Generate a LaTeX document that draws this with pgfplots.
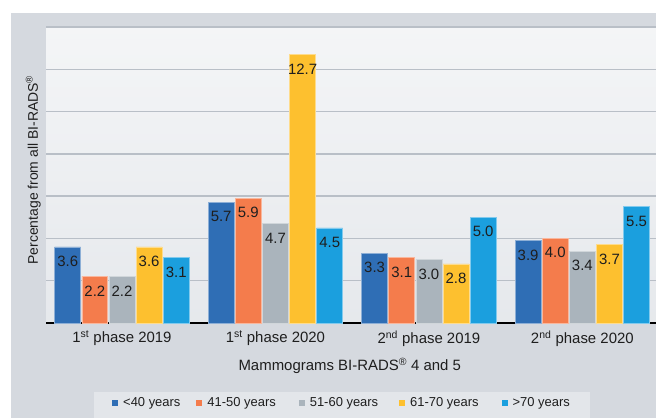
\documentclass[border=0pt]{standalone}
\usepackage{pgfplots}
\pgfplotsset{compat=1.18}
\usepackage{fontspec}
\setmainfont{Liberation Sans}
\definecolor{cA}{HTML}{2F6EB5}
\definecolor{cB}{HTML}{F47C4C}
\definecolor{cC}{HTML}{AAB4BC}
\definecolor{cD}{HTML}{FDC02F}
\definecolor{cE}{HTML}{1B9FDE}
\definecolor{panel}{HTML}{D5D9DF}
\definecolor{legbg}{HTML}{E3E6EA}
\definecolor{gridc}{HTML}{B9BFC7}
\definecolor{txt}{HTML}{1E1E1E}
\begin{document}
\begin{tikzpicture}[x=1bp,y=1bp]
\useasboundingbox (0,0) rectangle (656,418);
\fill[white] (0,0) rectangle (656,418);
\fill[panel] (11,0) rectangle (656,405);
\fill[legbg] (94,0) rectangle (590,26);
\begin{axis}[
  at={(46bp,95bp)}, anchor=south west,
  scale only axis, width=610bp, height=296bp,
  xmin=-0.495, xmax=3.48, ymin=0, ymax=14,
  ybar=1.2bp, bar width=0.169,
  axis background/.style={top color=white!60!legbg, bottom color=white!10!legbg},
  xtick={0,1,2,3},
  xticklabels={1\textsuperscript{st} phase 2019, 1\textsuperscript{st} phase 2020, 2\textsuperscript{nd} phase 2019, 2\textsuperscript{nd} phase 2020},
  xticklabel style={font=\fontsize{15}{18}\selectfont, text=txt, yshift=-4bp},
  ytick={2,4,...,14}, yticklabels={},
  ymajorgrids, major grid style={color=gridc, line width=1.4bp},
  major tick length=0pt,
  axis x line*=bottom, axis y line*=left,
  y axis line style={draw=none},
  x axis line style={-, black, line width=2bp},
  xlabel={Mammograms BI-RADS\textsuperscript{\textregistered} 4 and 5},
  xlabel style={at={(axis description cs:0.498,-0.145)}, anchor=center, font=\fontsize{15}{18}\selectfont, text=txt},
  ylabel={Percentage from all BI-RADS\textsuperscript{\textregistered}},
  ylabel style={at={(axis description cs:-0.021,0.517)}, anchor=center, font=\fontsize{14}{17}\selectfont, text=txt},
  nodes near coords={\pgfmathprintnumber[fixed,fixed zerofill,precision=1,assume math mode=true]{\pgfplotspointmeta}},
  every node near coord/.append style={anchor=north, yshift=-5.5bp, font=\fontsize{15}{18}\selectfont, text=txt},
  legend image code/.code={\fill[#1,draw=none] (0bp,-3bp) rectangle (6bp,3bp);},
  legend columns=5,
  legend style={at={(axis description cs:0.1082,-0.2703)}, anchor=west, draw=none, fill=none, inner sep=0pt,
    font=\fontsize{13}{15}\selectfont, text=txt,
    nodes={inner sep=2bp},
    /tikz/column 1/.style={column sep=3bp},
    /tikz/column 3/.style={column sep=3bp},
    /tikz/column 5/.style={column sep=3bp},
    /tikz/column 7/.style={column sep=3bp},
    /tikz/column 9/.style={column sep=3bp},
    /tikz/column 2/.style={column sep=14bp},
    /tikz/column 4/.style={column sep=21bp},
    /tikz/column 6/.style={column sep=19bp},
    /tikz/column 8/.style={column sep=21bp}},
]
\addplot[fill=cA, draw=cA!55!white, line width=0.6bp] coordinates {(0,3.6) (1,5.7) (2,3.3) (3,3.9)};
\addplot[fill=cB, draw=cB!55!white, line width=0.6bp] coordinates {(0,2.2) (1,5.9) (2,3.1) (3,4.0)};
\addplot[fill=cC, draw=cC!55!white, line width=0.6bp] coordinates {(0,2.2) (1,4.7) (2,3.0) (3,3.4)};
\addplot[fill=cD, draw=cD!55!white, line width=0.6bp] coordinates {(0,3.6) (1,12.7) (2,2.8) (3,3.7)};
\addplot[fill=cE, draw=cE!55!white, line width=0.6bp] coordinates {(0,3.1) (1,4.5) (2,5.0) (3,5.5)};
\legend{<40 years, 41-50 years, 51-60 years, 61-70 years, >70 years}
\end{axis}
\end{tikzpicture}
\end{document}
